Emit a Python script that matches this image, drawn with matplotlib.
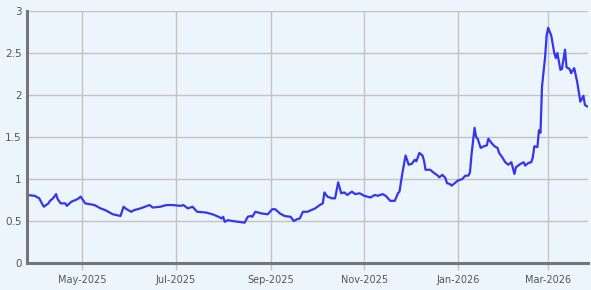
import matplotlib
matplotlib.use("Agg")
import matplotlib.pyplot as plt
import matplotlib.dates as mdates
import matplotlib.ticker as mticker
import pandas as pd

dates = [
    "2025-03-26", "2025-03-31", "2025-04-03", "2025-04-05", "2025-04-06", "2025-04-09",
    "2025-04-10", "2025-04-12", "2025-04-14", "2025-04-15", "2025-04-17", "2025-04-20",
    "2025-04-21", "2025-04-24", "2025-04-28", "2025-04-30", "2025-05-03", "2025-05-06",
    "2025-05-09", "2025-05-13", "2025-05-16", "2025-05-18", "2025-05-21", "2025-05-26",
    "2025-05-28", "2025-05-30", "2025-06-02", "2025-06-04", "2025-06-08", "2025-06-11",
    "2025-06-14", "2025-06-16", "2025-06-21", "2025-06-25", "2025-06-29", "2025-07-04",
    "2025-07-06", "2025-07-09", "2025-07-12", "2025-07-15", "2025-07-21", "2025-07-25",
    "2025-07-29", "2025-07-31", "2025-08-01", "2025-08-02", "2025-08-04", "2025-08-07",
    "2025-08-11", "2025-08-15", "2025-08-17", "2025-08-19", "2025-08-20", "2025-08-22",
    "2025-08-26", "2025-08-30", "2025-09-02", "2025-09-04", "2025-09-07", "2025-09-10",
    "2025-09-14", "2025-09-16", "2025-09-18", "2025-09-20", "2025-09-22", "2025-09-25",
    "2025-09-30", "2025-10-03", "2025-10-05", "2025-10-06", "2025-10-08", "2025-10-11",
    "2025-10-13", "2025-10-15", "2025-10-17", "2025-10-19", "2025-10-21", "2025-10-24",
    "2025-10-26", "2025-10-29", "2025-11-01", "2025-11-05", "2025-11-08", "2025-11-10",
    "2025-11-13", "2025-11-15", "2025-11-18", "2025-11-21", "2025-11-23", "2025-11-24",
    "2025-11-26", "2025-11-28", "2025-11-30", "2025-12-02", "2025-12-04", "2025-12-05",
    "2025-12-07", "2025-12-09", "2025-12-10", "2025-12-11", "2025-12-14", "2025-12-16",
    "2025-12-19", "2025-12-20", "2025-12-22", "2025-12-24", "2025-12-25", "2025-12-27",
    "2025-12-28", "2025-12-30", "2026-01-01", "2026-01-04", "2026-01-06", "2026-01-08",
    "2026-01-09", "2026-01-10", "2026-01-12", "2026-01-13", "2026-01-14", "2026-01-16",
    "2026-01-18", "2026-01-20", "2026-01-21", "2026-01-23", "2026-01-25", "2026-01-27",
    "2026-01-28", "2026-01-30", "2026-02-01", "2026-02-03", "2026-02-05", "2026-02-07",
    "2026-02-08", "2026-02-11", "2026-02-13", "2026-02-14", "2026-02-16", "2026-02-18",
    "2026-02-19", "2026-02-20", "2026-02-22", "2026-02-23", "2026-02-24", "2026-02-25",
    "2026-02-27", "2026-02-28", "2026-03-01", "2026-03-03", "2026-03-05", "2026-03-06",
    "2026-03-07", "2026-03-09", "2026-03-10", "2026-03-12", "2026-03-13", "2026-03-15",
    "2026-03-16", "2026-03-18", "2026-03-20", "2026-03-22", "2026-03-24", "2026-03-25",
    "2026-03-27",
]

values = [
    0.81, 0.80, 0.77, 0.70, 0.67, 0.71,
    0.74, 0.77, 0.82, 0.76, 0.71, 0.71,
    0.68, 0.73, 0.76, 0.79, 0.71, 0.70,
    0.69, 0.65, 0.63, 0.61, 0.58, 0.56,
    0.67, 0.64, 0.61, 0.63, 0.65, 0.67,
    0.69, 0.66, 0.67, 0.69, 0.69, 0.68,
    0.69, 0.65, 0.67, 0.61, 0.60, 0.58,
    0.55, 0.53, 0.55, 0.49, 0.51, 0.50,
    0.49, 0.48, 0.55, 0.56, 0.55, 0.61,
    0.59, 0.58, 0.64, 0.64, 0.59, 0.56,
    0.55, 0.50, 0.52, 0.53, 0.61, 0.61,
    0.65, 0.69, 0.71, 0.84, 0.79, 0.77,
    0.77, 0.96, 0.83, 0.84, 0.81, 0.85,
    0.82, 0.83, 0.80, 0.78, 0.81, 0.80,
    0.82, 0.80, 0.74, 0.74, 0.83, 0.85,
    1.08, 1.28, 1.17, 1.18, 1.23, 1.21,
    1.31, 1.28, 1.22, 1.11, 1.11, 1.08,
    1.04, 1.02, 1.05, 1.01, 0.95, 0.94,
    0.92, 0.95, 0.98, 1.00, 1.04, 1.04,
    1.08, 1.29, 1.61, 1.50, 1.48, 1.37,
    1.39, 1.40, 1.48, 1.43, 1.39, 1.37,
    1.31, 1.26, 1.20, 1.17, 1.20, 1.06,
    1.14, 1.18, 1.20, 1.16, 1.19, 1.20,
    1.26, 1.39, 1.38, 1.58, 1.55, 2.10,
    2.45, 2.71, 2.80, 2.71, 2.50, 2.44,
    2.50, 2.30, 2.31, 2.54, 2.33, 2.31,
    2.26, 2.32, 2.15, 1.92, 1.99, 1.88,
    1.86,
]

y_ticks = [0, 0.5, 1, 1.5, 2, 2.5, 3]

x = pd.to_datetime(dates)

bg = "#edf5fc"
fig = plt.figure(figsize=(5.91, 2.90), dpi=100, facecolor=bg)
ax = fig.add_axes([27 / 591, 27 / 290, 561 / 591, 252 / 290])
ax.set_facecolor(bg)

ax.plot(x, values, color="#3535f0", linewidth=1.6, solid_joinstyle="round")

ax.set_ylim(0, 3)
ax.set_xlim(x[0], x[-1])
ax.set_yticks(y_ticks)
ax.yaxis.set_major_formatter(mticker.FuncFormatter(lambda v, p: f"{v:g}"))

ax.xaxis.set_major_locator(mdates.MonthLocator(bymonth=[1, 3, 5, 7, 9, 11]))
ax.xaxis.set_major_formatter(mdates.DateFormatter("%b-%Y"))

ax.grid(True, color="#c3c3c3", linewidth=1.0)
ax.set_axisbelow(True)

for s in ["top", "right"]:
    ax.spines[s].set_visible(False)
for s in ["left", "bottom"]:
    ax.spines[s].set_color("#767676")
    ax.spines[s].set_linewidth(2.2)

ax.tick_params(axis="x", colors="#c3c3c3", length=5, width=1.0, labelcolor="#555555",
               labelsize=7, pad=3.5)
ax.tick_params(axis="y", length=0, labelcolor="#555555", labelsize=7.5, pad=4)

fig.savefig("out.png", dpi=100, facecolor=bg)
